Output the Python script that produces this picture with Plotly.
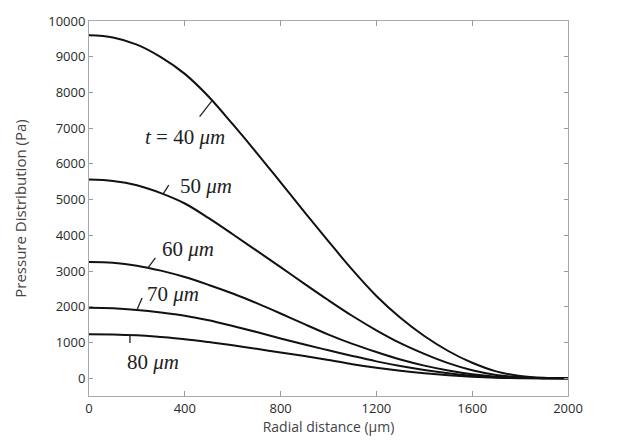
import numpy as np
import plotly.graph_objects as go

# Radial distance (um)
r = [0, 100, 200, 300, 400, 500, 600, 700, 800, 900, 1000,
     1100, 1200, 1300, 1400, 1500, 1600, 1700, 1800, 1900, 2000]

p40 = [9600, 9540, 9340, 8990, 8520, 7880, 7110, 6310, 5480, 4650, 3830,
       3030, 2300, 1690, 1180, 760, 430, 190, 60, 8, 0]
p50 = [5560, 5520, 5400, 5180, 4890, 4480, 4030, 3570, 3110, 2640, 2180,
       1740, 1340, 980, 680, 420, 220, 90, 22, 0, 0]
p60 = [3250, 3230, 3150, 3010, 2830, 2610, 2370, 2100, 1810, 1510, 1220,
       960, 730, 520, 350, 215, 110, 42, 8, 0, 0]
p70 = [1970, 1955, 1910, 1840, 1750, 1620, 1460, 1290, 1110, 940, 780,
       620, 470, 340, 230, 138, 68, 22, 4, 0, 0]
p80 = [1230, 1225, 1200, 1150, 1090, 1010, 920, 820, 720, 620, 510,
       390, 290, 205, 135, 78, 36, 10, 0, 0, 0]

series = [p40, p50, p60, p70, p80]
labels = ["<i>t</i> = 40 <i>μm</i>", "50 <i>μm</i>", "60 <i>μm</i>",
          "70 <i>μm</i>", "80 <i>μm</i>"]
# leader tip radial positions and label centre positions (data units)
tip_r = [514, 309, 246, 200, 171]
label_xy = [(400, 6760), (490, 5385), (415, 3626), (352, 2363), (268, 440)]
leader_off = [(-14, 18), (7, -11), (9, -12), (6, -14), (0, 10)]

x_ticks = [0, 400, 800, 1200, 1600, 2000]
y_ticks = list(range(0, 10001, 1000))

fig = go.Figure()
for s in series:
    fig.add_trace(go.Scatter(x=r, y=s, mode="lines", line_shape="spline",
                             line=dict(color="#111111", width=2, smoothing=1.0),
                             showlegend=False, hoverinfo="skip"))

serif = dict(family="Liberation Serif", size=21, color="#222222")
for s, lab, tr, (lx, ly), (ox, oy) in zip(series, labels, tip_r, label_xy, leader_off):
    ty = float(np.interp(tr, r, s))
    fig.add_annotation(x=tr, y=ty, xref="x", yref="y", text=" ",
                       showarrow=True, arrowhead=0, arrowwidth=1.3,
                       arrowcolor="#222222", ax=ox, ay=oy, standoff=0,
                       font=dict(size=1))
    fig.add_annotation(x=lx, y=ly, xref="x", yref="y", text=lab,
                       showarrow=False, font=serif)

axis_font = dict(family="Open Sans", size=13, color="#2a2a2a")
fig.update_xaxes(range=[0, 2000], tickvals=x_ticks,
                 ticks="inside", ticklen=5, tickcolor="#999999",
                 showline=True, linecolor="#aaaaaa", linewidth=1, mirror="ticks",
                 showgrid=False, zeroline=False, tickfont=axis_font,
                 title=dict(text="Radial distance (μm)",
                            font=dict(family="Open Sans", size=14, color="#444444"),
                            standoff=4))
fig.update_yaxes(range=[-500, 10000], tickvals=y_ticks,
                 ticktext=[str(v) for v in y_ticks],
                 ticks="inside", ticklen=4, tickcolor="#999999",
                 showline=True, linecolor="#aaaaaa", linewidth=1, mirror="ticks",
                 showgrid=False, zeroline=False, tickfont=axis_font,
                 title=dict(text="Pressure Distribution (Pa)",
                            font=dict(family="Open Sans", size=15, color="#444444"),
                            standoff=17))
fig.update_layout(width=631, height=445, margin=dict(l=89, r=63, t=14, b=49),
                  plot_bgcolor="white", paper_bgcolor="white")
fig.write_html("out.html")
